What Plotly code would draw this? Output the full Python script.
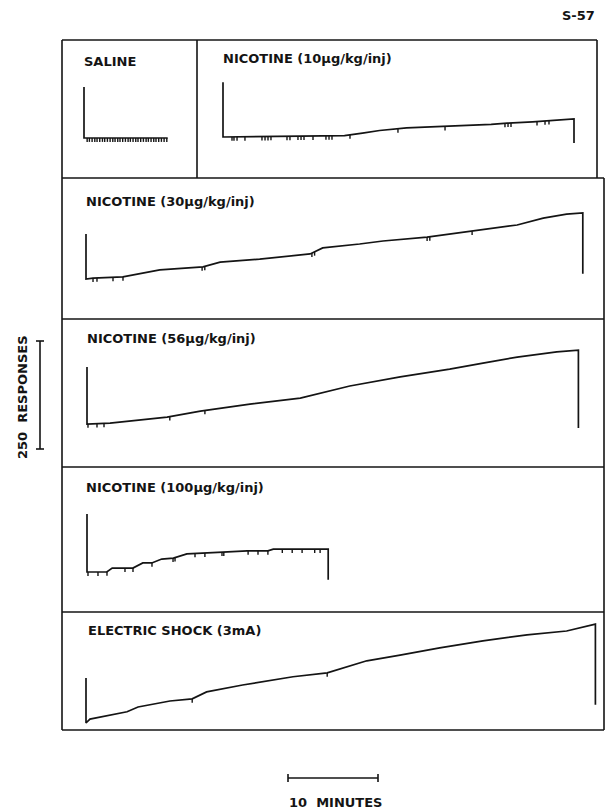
import numpy as np
import plotly.graph_objects as go

W, H = 606, 809
PX_PER_MIN = 90 / 10          # 10-minute bar spans 90 px
PX_PER_RESP = 108 / 250       # 250-response bar spans 108 px

# ---------------- cumulative records (minutes, cumulative responses) ----------------
saline_t = [0.0, 9.3]
saline_r = [0, 0]
saline_cal = 118
saline_drop = None
saline_inj = [0.35, 0.6, 0.9, 1.2, 1.45, 1.75, 2.05, 2.3, 2.6, 2.9, 3.2, 3.45, 3.75,
              4.0, 4.3, 4.6, 4.9, 5.15, 5.45, 5.75, 6.0, 6.3, 6.6, 6.9, 7.15, 7.45,
              7.75, 8.0, 8.3, 8.6, 8.9, 9.2]

nic10_t = [0.0, 8.6, 13.5, 15.5, 17.4, 20.4, 24.9, 29.8, 31.6, 34.4, 39.0]
nic10_r = [0, 2, 3, 9, 15, 21, 24, 29, 32, 35, 42]
nic10_cal = 127
nic10_drop = -14
nic10_inj = [1.0, 1.22, 1.56, 2.44, 4.33, 4.67, 5.0, 5.33, 7.11, 7.44, 8.33, 8.67, 9.0,
             10.0, 11.44, 11.78, 12.11, 14.11, 19.44, 24.67, 31.33, 31.67, 32.0,
             34.89, 35.78, 36.22]

nic30_t = [0.0, 0.78, 4.1, 8.2, 13.0, 14.9, 19.3, 24.9, 26.3, 30.4, 33.0, 37.9, 43.0,
           47.9, 50.8, 53.4, 55.2]
nic30_r = [0, 2, 5, 21, 28, 39, 46, 58, 72, 81, 88, 97, 111, 125, 141, 150, 153]
nic30_cal = 104
nic30_drop = 12
nic30_inj = [0.78, 1.22, 3.0, 4.11, 12.9, 13.2, 25.1, 25.4, 37.9, 38.2, 42.9]

nic56_t = [0.0, 2.56, 8.9, 12.6, 18.1, 23.7, 29.2, 34.8, 40.3, 44.0, 47.8, 52.2, 54.6]
nic56_r = [0, 2, 16, 30, 46, 60, 88, 109, 127, 141, 155, 167, 171]
nic56_cal = 132
nic56_drop = -9
nic56_inj = [0.11, 1.11, 1.89, 9.2, 13.1]

nic100_t = [0.0, 2.2, 2.8, 5.1, 6.2, 7.2, 8.3, 9.6, 11.1, 15.1, 17.8, 20.1, 20.7, 26.8]
nic100_r = [0, 0, 9, 9, 21, 21, 30, 32, 42, 46, 49, 49, 53, 53]
nic100_cal = 134
nic100_drop = -18
nic100_inj = [0.11, 1.22, 2.22, 4.22, 5.11, 7.22, 9.56, 9.78, 12.0, 13.1, 15.0, 15.2,
              17.9, 19.0, 20.1, 21.7, 22.8, 23.9, 25.3, 25.9]

shock_t = [0.0, 0.44, 2.67, 4.56, 5.78, 9.33, 11.8, 13.4, 17.4, 23.0, 26.8, 31.2, 34.9,
           39.3, 44.1, 49.0, 53.4, 56.6]
shock_r = [0, 9, 19, 26, 37, 51, 56, 72, 88, 107, 116, 144, 157, 174, 190, 204, 213, 229]
shock_cal = 104
shock_drop = 42
shock_inj = [11.8, 26.8]

titles = ["SALINE", "NICOTINE (10µg/kg/inj)", "NICOTINE (30µg/kg/inj)",
          "NICOTINE (56µg/kg/inj)", "NICOTINE (100µg/kg/inj)", "ELECTRIC SHOCK (3mA)"]

SCALE_MINUTES = 10
SCALE_RESPONSES = 250

# ---------------- panel geometry (pixels: left, top, right, bottom, origin x, origin y) ----------------
panel_boxes = [
    (62, 40, 197, 178, 84, 138),
    (197, 40, 597, 178, 223, 137),
    (62, 178, 604, 319, 86, 279),
    (62, 319, 604, 467, 87, 424),
    (62, 467, 604, 612, 87, 572),
    (62, 612, 604, 730, 86, 723),
]
title_pos = [(82, 62), (221, 58), (84, 202), (85, 338), (84, 487), (86, 630)]

records = [
    (saline_t, saline_r, saline_cal, saline_drop, saline_inj),
    (nic10_t, nic10_r, nic10_cal, nic10_drop, nic10_inj),
    (nic30_t, nic30_r, nic30_cal, nic30_drop, nic30_inj),
    (nic56_t, nic56_r, nic56_cal, nic56_drop, nic56_inj),
    (nic100_t, nic100_r, nic100_cal, nic100_drop, nic100_inj),
    (shock_t, shock_r, shock_cal, shock_drop, shock_inj),
]

INK = "#141414"
TICK_LEN = 9  # responses (pen deflection for each injection)
FONT = dict(family="DejaVu Sans", size=13, color=INK, weight="bold")
NB = "\u00a0"

fig = go.Figure()
layout_axes = {}

for i, ((t, r, cal, drop, inj), box) in enumerate(zip(records, panel_boxes), start=1):
    left, top, right, bottom, ox, oy = box
    xa = "x" if i == 1 else f"x{i}"
    ya = "y" if i == 1 else f"y{i}"
    xs = [0.0] + list(t)
    ys = [cal] + list(r)
    if drop is not None:
        xs.append(t[-1])
        ys.append(drop)
    fig.add_trace(go.Scatter(x=xs, y=ys, mode="lines", xaxis=xa, yaxis=ya,
                             line=dict(color=INK, width=1.7), hoverinfo="skip",
                             showlegend=False))
    tx, ty = [], []
    for ti in inj:
        ri = float(np.interp(ti, t, r))
        tx += [ti, ti, None]
        ty += [ri, ri - TICK_LEN, None]
    fig.add_trace(go.Scatter(x=tx, y=ty, mode="lines", xaxis=xa, yaxis=ya,
                             line=dict(color=INK, width=1.4), hoverinfo="skip",
                             showlegend=False))
    key = "" if i == 1 else str(i)
    layout_axes[f"xaxis{key}"] = dict(
        domain=[left / W, right / W],
        range=[(left - ox) / PX_PER_MIN, (right - ox) / PX_PER_MIN],
        visible=False, fixedrange=True, anchor=ya)
    layout_axes[f"yaxis{key}"] = dict(
        domain=[1 - bottom / H, 1 - top / H],
        range=[(oy - bottom) / PX_PER_RESP, (oy - top) / PX_PER_RESP],
        visible=False, fixedrange=True, anchor=xa)

# full-page axis in minutes / responses for the calibration bars
layout_axes["xaxis7"] = dict(domain=[0, 1], range=[0, W / PX_PER_MIN],
                             visible=False, fixedrange=True, anchor="y7")
layout_axes["yaxis7"] = dict(domain=[0, 1], range=[0, H / PX_PER_RESP],
                             visible=False, fixedrange=True, anchor="x7")

bar_t0 = 288 / PX_PER_MIN
bar_r = (H - 778) / PX_PER_RESP
cap_r = 4 / PX_PER_RESP
bx = [bar_t0, bar_t0 + SCALE_MINUTES, None,
      bar_t0, bar_t0, None,
      bar_t0 + SCALE_MINUTES, bar_t0 + SCALE_MINUTES]
by = [bar_r, bar_r, None,
      bar_r - cap_r, bar_r + cap_r, None,
      bar_r - cap_r, bar_r + cap_r]
fig.add_trace(go.Scatter(x=bx, y=by, mode="lines", xaxis="x7", yaxis="y7",
                         line=dict(color=INK, width=1.6), hoverinfo="skip",
                         showlegend=False))

vbar_t = 40 / PX_PER_MIN
vbar_r0 = (H - 449) / PX_PER_RESP
cap_t = 4 / PX_PER_MIN
vx = [vbar_t, vbar_t, None,
      vbar_t - cap_t, vbar_t + cap_t, None,
      vbar_t - cap_t, vbar_t + cap_t]
vy = [vbar_r0, vbar_r0 + SCALE_RESPONSES, None,
      vbar_r0, vbar_r0, None,
      vbar_r0 + SCALE_RESPONSES, vbar_r0 + SCALE_RESPONSES]
fig.add_trace(go.Scatter(x=vx, y=vy, mode="lines", xaxis="x7", yaxis="y7",
                         line=dict(color=INK, width=1.6), hoverinfo="skip",
                         showlegend=False))

# frame and panel dividers
def hline(x0, x1, y):
    return dict(type="line", xref="paper", yref="paper", x0=x0 / W, x1=x1 / W,
                y0=1 - y / H, y1=1 - y / H, line=dict(color=INK, width=1.6))

def vline(x, y0, y1):
    return dict(type="line", xref="paper", yref="paper", x0=x / W, x1=x / W,
                y0=1 - y0 / H, y1=1 - y1 / H, line=dict(color=INK, width=1.6))

shapes = [
    hline(62, 597, 40), vline(62, 40, 730), vline(597, 40, 178), vline(197, 40, 178),
    hline(62, 604, 178), hline(62, 604, 319), hline(62, 604, 467), hline(62, 604, 612),
    hline(62, 604, 730), vline(604, 178, 730),
]

annotations = []
for text, (px, py) in zip(titles, title_pos):
    annotations.append(dict(text=text, x=px / W, y=1 - py / H, xref="paper", yref="paper",
                            xanchor="left", yanchor="middle", showarrow=False, font=FONT))
annotations.append(dict(text="S-57", x=597 / W, y=1 - 15 / H, xref="paper", yref="paper",
                        xanchor="right", yanchor="middle", showarrow=False, font=FONT))
annotations.append(dict(text=f"{SCALE_RESPONSES}{NB}{NB}RESPONSES", x=22 / W, y=1 - 397 / H,
                        xref="paper", yref="paper", textangle=-90, xanchor="center",
                        yanchor="middle", showarrow=False, font=FONT))
annotations.append(dict(text=f"{SCALE_MINUTES}{NB}{NB}MINUTES", x=335 / W, y=1 - 802 / H,
                        xref="paper", yref="paper", xanchor="center", yanchor="middle",
                        showarrow=False, font=FONT))

fig.update_layout(
    width=W, height=H, margin=dict(l=0, r=0, t=0, b=0),
    paper_bgcolor="white", plot_bgcolor="rgba(0,0,0,0)",
    shapes=shapes, annotations=annotations, **layout_axes,
)

fig.write_html("out.html")
